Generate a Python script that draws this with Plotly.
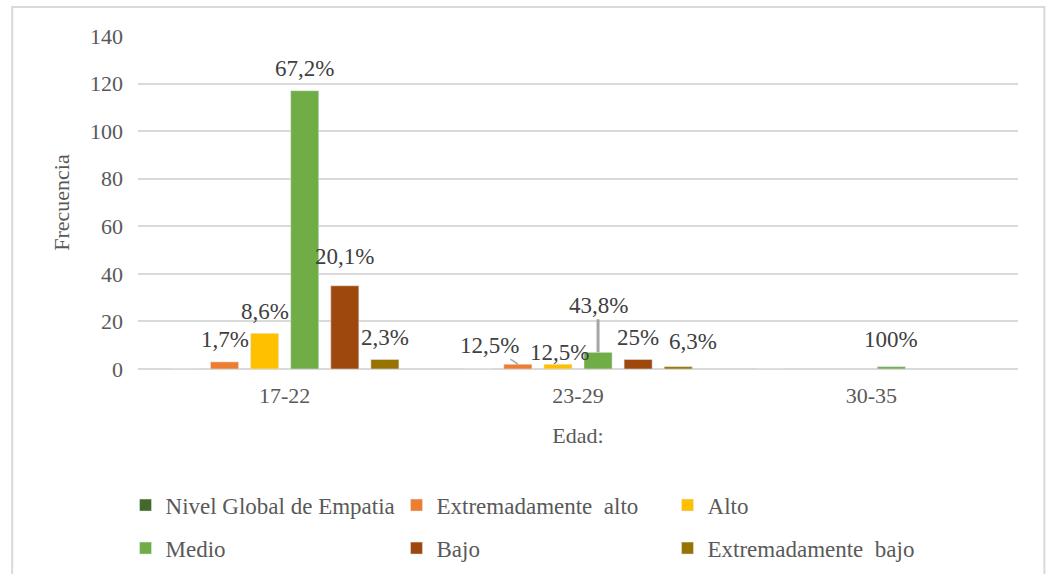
import plotly.graph_objects as go

# Age groups and frequency per empathy level
categories = ["17-22", "23-29", "30-35"]

nivel_global = [0, 0, 0]
ext_alto = [3, 2, None]
alto = [15, 2, None]
medio = [117, 7, 1]
bajo = [35, 4, None]
ext_bajo = [4, 1, None]

# Percent labels shown above the bars
ext_alto_pct = ["1,7%", "12,5%", ""]
alto_pct = ["8,6%", "12,5%", ""]
medio_pct = ["67,2%", "43,8%", "100%"]
bajo_pct = ["20,1%", "25%", ""]
ext_bajo_pct = ["2,3%", "6,3%", ""]

FONT = "Liberation Serif"
TXT = "#404040"
AX = "#595959"

series = [
    ("Nivel Global de Empatia", nivel_global, ["", "", ""], "#43682B", "legend"),
    ("Extremadamente  alto", ext_alto, ext_alto_pct, "#ED7D31", "legend"),
    ("Alto", alto, alto_pct, "#FFC000", "legend"),
    ("Medio", medio, medio_pct, "#70AD47", "legend2"),
    ("Bajo", bajo, bajo_pct, "#9E480E", "legend2"),
    ("Extremadamente  bajo", ext_bajo, ext_bajo_pct, "#997300", "legend2"),
]

# label tweaks (extra x px, y px above bar top, arrow offsets)
tweaks = {
    ("Bajo", "17-22"): dict(yshift=29),
    ("Extremadamente  alto", "23-29"): dict(arrow=(-28, -19)),
    ("Alto", "23-29"): dict(yshift=12, dx=2),
    ("Medio", "23-29"): dict(arrow=(0, -47), thick=True),
    ("Extremadamente  bajo", "23-29"): dict(yshift=25, dx=15),
    ("Medio", "30-35"): dict(yshift=27),
}

slot = 880 / 3 * (1 - 0.18) / len(series)

fig = go.Figure()

for k, (name, vals, pct, color, leg) in enumerate(series):
    fig.add_trace(go.Bar(
        x=categories,
        y=vals,
        name=name,
        marker=dict(color=color),
        legend=leg,
    ))
    for cat, v, t in zip(categories, vals, pct):
        if not t:
            continue
        tw = tweaks.get((name, cat), {})
        xs = (k - (len(series) - 1) / 2) * slot + tw.get("dx", 0)
        if "arrow" in tw:
            ax, ay = tw["arrow"]
            fig.add_annotation(
                x=cat, y=v, xshift=xs, text=t, showarrow=True,
                ax=ax, ay=ay, arrowhead=0, standoff=0,
                arrowcolor="#a6a6a6", arrowwidth=3 if tw.get("thick") else 1.5,
                font=dict(size=23, color=TXT, family=FONT),
            )
        else:
            fig.add_annotation(
                x=cat, y=v, xshift=xs, yshift=tw.get("yshift", 22), text=t,
                showarrow=False, yanchor="middle",
                font=dict(size=23, color=TXT, family=FONT),
            )

# Light frame around the whole chart
fig.add_shape(type="rect", xref="paper", yref="paper",
              x0=-0.143, x1=1.03, y0=-0.65, y1=1.087,
              line=dict(color="#d9d9d9", width=2), layer="below")

legend_style = dict(
    orientation="h", xref="container", x=0.12, xanchor="left",
    yref="container", yanchor="middle",
    entrywidth=226, entrywidthmode="pixels",
    font=dict(size=23, color=AX, family=FONT),
    bgcolor="rgba(0,0,0,0)",
)

fig.update_layout(
    width=1046,
    height=574,
    margin=dict(l=138, r=28, t=36, b=205, autoexpand=False),
    plot_bgcolor="white",
    paper_bgcolor="white",
    barmode="group",
    bargap=0.18,
    bargroupgap=0.3,
    font=dict(family=FONT, size=22, color=AX),
    xaxis=dict(
        showgrid=False,
        showline=False,
        automargin=False,
        ticklabelstandoff=11,
        tickfont=dict(size=22, color=AX),
        title=dict(text="Edad:", font=dict(size=22, color=AX), standoff=20),
    ),
    yaxis=dict(
        range=[0, 140],
        dtick=20,
        showgrid=True,
        automargin=False,
        gridcolor="#d9d9d9",
        gridwidth=1.5,
        zeroline=True,
        zerolinecolor="#d9d9d9",
        zerolinewidth=1.5,
        ticklabelstandoff=14,
        tickfont=dict(size=22, color=AX),
        title=dict(text="Frecuencia", font=dict(size=22, color=AX), standoff=14),
    ),
    legend=dict(legend_style, y=0.12),
    legend2=dict(legend_style, y=0.045),
)

fig.write_html("out.html", config={"displayModeBar": False},
               post_script="document.body.style.margin='0';")
